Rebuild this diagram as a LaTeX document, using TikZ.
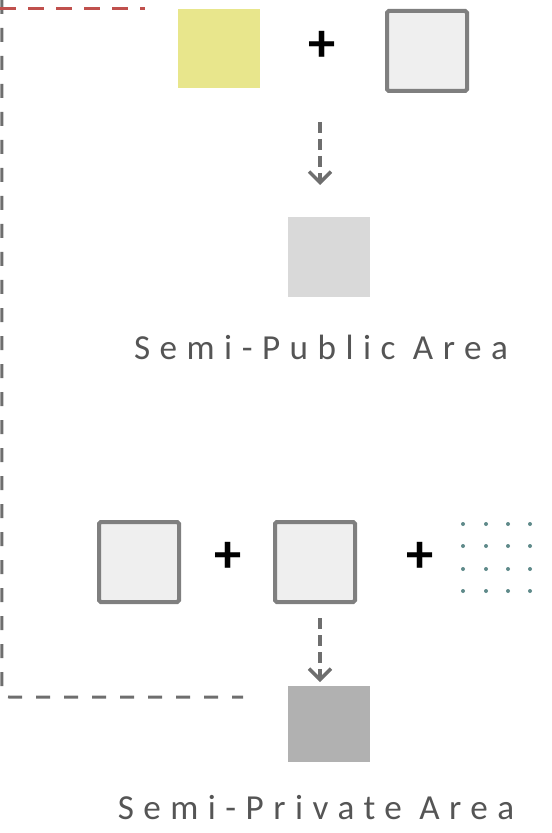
\documentclass[tikz,border=0pt]{standalone}
\usepackage{xcolor}
\usepackage{fontspec}
\setmainfont{Carlito}
\newfontfamily\areafont[LetterSpace=27]{Carlito}
\usepackage{tikz}
\usetikzlibrary{arrows.meta, positioning, calc}
\definecolor{frameline}{HTML}{6E6E6E}
\definecolor{redline}{HTML}{C0504D}
\definecolor{lemon}{HTML}{E8E68C}
\definecolor{paleplot}{HTML}{EFEFEF}
\definecolor{plotedge}{HTML}{7F7F7F}
\definecolor{semipub}{HTML}{D9D9D9}
\definecolor{semipriv}{HTML}{B1B1B1}
\definecolor{dotteal}{HTML}{5F8A8A}
\definecolor{labelgrey}{HTML}{555555}

\begin{document}
\begin{tikzpicture}[
      every node/.style={inner sep=0pt, outer sep=0pt},
      fillsq/.style={minimum width=1.64cm, minimum height=1.58cm},
      plotsq/.style={draw=plotedge, line width=0.08cm, fill=paleplot,
                     rounded corners=1pt, minimum size=1.6cm},
      plussign/.style={font=\fontsize{31}{34}\selectfont\bfseries, text=black},
      arealabel/.style={font=\areafont\fontsize{20}{24}\selectfont, text=labelgrey},
      flow/.style={-{Straight Barb[length=2.2mm, width=4.4mm]}, line width=0.07cm,
                   frameline, dash pattern=on 0.22cm off 0.12cm},
      frame/.style={frameline, line width=0.06cm, dash pattern=on 0.28cm off 0.28cm},
    ]
    \useasboundingbox (0,0) rectangle (11.02,-16.66);

    % outline of the zone
    \coordinate (frameTop) at (0.04,0);
    \coordinate (frameEnd) at (4.86,-13.94);
    \draw[frame, rounded corners=4pt] (frameTop) |- (frameEnd);
    \coordinate (redStart) at (0,-0.18);
    \coordinate (redEnd) at (2.90,-0.18);
    \draw[frame, redline, dash pattern=on 0.32cm off 0.24cm] (redStart) -- (redEnd);

    % upper row
    \node[fillsq, fill=lemon] (lemonSq) at (4.38,-0.98) {};
    \node[plussign] (plusTop) at (6.44,-0.92) {+};
    \node[plotsq] (plotTop) at (8.54,-1.02) {};
    \node[fillsq, fill=semipub] (pubSq) at (6.58,-5.14) {};
    \node[arealabel] (pubLabel) at (6.42,-6.94) {Semi-Public Area};

    \coordinate (flowA) at (6.40,-2.44);
    \coordinate (flowB) at (6.40,-3.70);
    \draw[flow] (flowA) -- (flowB);

    % lower row
    \node[plotsq] (plotA) at (2.78,-11.24) {};
    \node[plussign] (plusA) at (4.56,-11.14) {+};
    \node[plotsq] (plotB) at (6.30,-11.24) {};
    \node[plussign] (plusB) at (8.40,-11.14) {+};
    \foreach \px in {9.26,9.72,10.16,10.60}
      \foreach \py in {-10.48,-10.92,-11.38,-11.82}
        \fill[dotteal] (\px,\py) circle (0.04);
    \node[fillsq, fill=semipriv, minimum height=1.52cm] (privSq) at (6.58,-14.48) {};
    \node[arealabel] (privLabel) at (6.32,-16.16) {Semi-Private Area};

    \coordinate (flowC) at (6.40,-12.36);
    \coordinate (flowD) at (6.40,-13.64);
    \draw[flow] (flowC) -- (flowD);
\end{tikzpicture}
\end{document}
